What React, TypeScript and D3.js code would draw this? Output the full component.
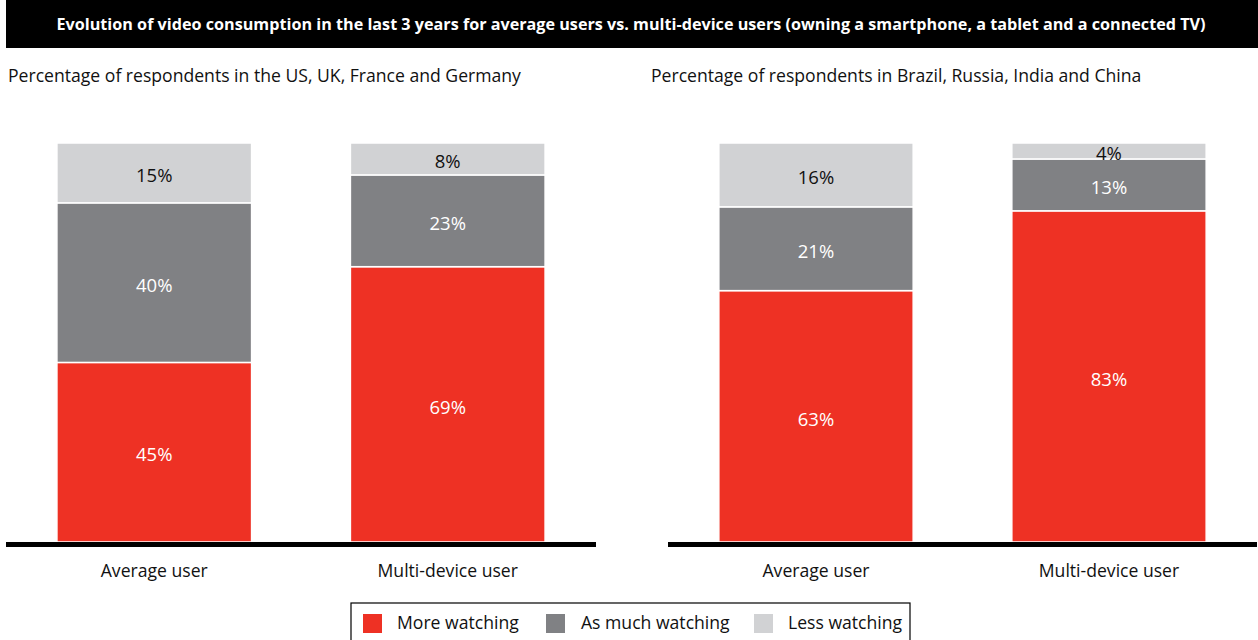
import React from "react";
import * as d3 from "d3";

const TITLE = "Evolution of video consumption in the last 3 years for average users vs. multi-device users (owning a smartphone, a tablet and a connected TV)";
const categories = ["Average user", "Multi-device user"];
const seriesNames = ["More watching", "As much watching", "Less watching"];
const colors = ["#EE3124", "#808184", "#D1D2D4"];
const labelColors = ["#ffffff", "#ffffff", "#111111"];

const leftSubtitle = "Percentage of respondents in the US, UK, France and Germany";
const rightSubtitle = "Percentage of respondents in Brazil, Russia, India and China";
// values per category: [more, as much, less]
const leftValues = [
  [45, 40, 15],
  [69, 23, 8],
];
const rightValues = [
  [63, 21, 16],
  [83, 13, 4],
];

const FONT = "'Open Sans', 'Liberation Sans', sans-serif";
const FS = 17.6;

function Panel({ x0, x1, subtitleX, subtitle, values }: { x0: number; x1: number; subtitleX: number; subtitle: string; values: number[][] }) {
  const x = d3.scaleBand<string>().domain(categories).range([x0, x1]).paddingInner(0.3367).paddingOuter(0.1735);
  const y = d3.scaleLinear().domain([0, 100]).range([542, 143]);
  const rows = categories.map((c, i) => {
    const obj: any = { cat: c };
    seriesNames.forEach((s, j) => (obj[s] = values[i][j]));
    return obj;
  });
  const stacked = d3.stack<any>().keys(seriesNames)(rows);
  return (
    <g>
      <text x={subtitleX} y={82} fontSize={FS} fill="#111" fontFamily={FONT}>{subtitle}</text>
      {stacked.map((layer, j) =>
        layer.map((d, i) => {
          const bx = x(categories[i])!;
          const top = y(d[1]);
          const bot = y(d[0]);
          return (
            <g key={`${j}-${i}`}>
              <rect x={bx} y={top} width={x.bandwidth()} height={bot - top} fill={colors[j]} stroke="#fff" strokeWidth={1.5} />
              <text x={bx + x.bandwidth() / 2} y={(top + bot) / 2} dy="0.5em" textAnchor="middle" fontSize={18.5} fill={labelColors[j]} fontFamily={FONT}>
                {`${d[1] - d[0]}%`}
              </text>
            </g>
          );
        })
      )}
      <line x1={x0} x2={x1} y1={544.5} y2={544.5} stroke="#000" strokeWidth={5} />
      {categories.map((c) => (
        <text key={c} x={x(c)! + x.bandwidth() / 2} y={577} textAnchor="middle" fontSize={FS} fill="#111" fontFamily={FONT}>{c}</text>
      ))}
    </g>
  );
}

export default function App() {
  const legendItems = [
    { sx: 363, tx: 397 },
    { sx: 546, tx: 581 },
    { sx: 754, tx: 788 },
  ];
  return (
    <svg width={1258} height={640} style={{ position: "absolute", left: 0, top: 0, background: "#fff" }}>
      <rect x={6} y={0} width={1252} height={48} fill="#000" />
      <text x={631} y={30} textAnchor="middle" fontSize={15.5} fontWeight={700} fill="#fff" fontFamily={FONT} textLength={1149} lengthAdjust="spacingAndGlyphs">{TITLE}</text>
      <Panel x0={6} x1={596} subtitleX={8} subtitle={leftSubtitle} values={leftValues} />
      <Panel x0={668} x1={1257} subtitleX={651} subtitle={rightSubtitle} values={rightValues} />
      <rect x={351} y={603} width={559} height={40} fill="#fff" stroke="#000" strokeWidth={1.2} />
      {seriesNames.map((s, j) => (
        <g key={s}>
          <rect x={legendItems[j].sx} y={614} width={19} height={19} fill={colors[j]} />
          <text x={legendItems[j].tx} y={629} fontSize={FS} fill="#111" fontFamily={FONT}>{s}</text>
        </g>
      ))}
    </svg>
  );
}
